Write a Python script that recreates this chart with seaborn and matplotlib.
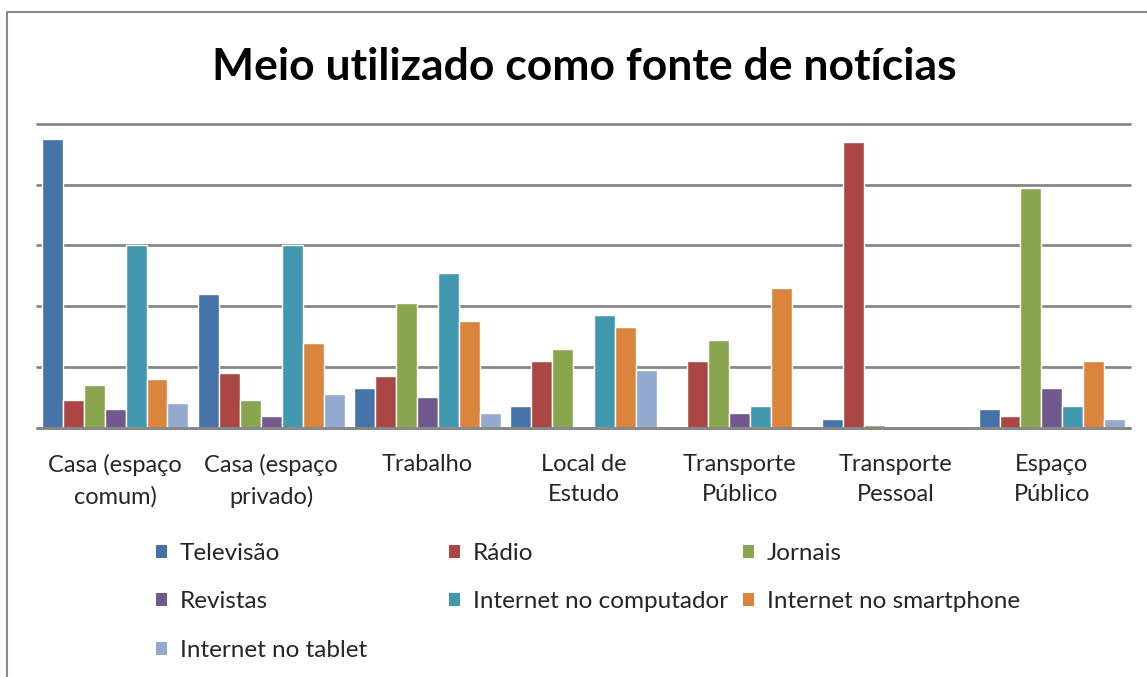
import matplotlib
matplotlib.use("Agg")
import matplotlib.pyplot as plt
import seaborn as sns
import pandas as pd
from matplotlib.patches import Patch
from matplotlib.lines import Line2D

# ---- data ----
locais = ["Casa (espaço\ncomum)", "Casa (espaço\nprivado)", "Trabalho", "Local de\nEstudo",
          "Transporte\nPúblico", "Transporte\nPessoal", "Espaço\nPúblico"]
meios = ["Televisão", "Rádio", "Jornais", "Revistas", "Internet no computador",
         "Internet no smartphone", "Internet no tablet"]
televisao = [95, 44, 13, 7, 0, 3, 6]
radio = [9, 18, 17, 22, 22, 94, 4]
jornais = [14, 9, 41, 26, 29, 1, 79]
revistas = [6, 4, 10, 0, 5, 0, 13]
int_computador = [60, 60, 51, 37, 7, 0, 7]
int_smartphone = [16, 28, 35, 33, 46, 0, 22]
int_tablet = [8, 11, 5, 19, 0, 0, 3]
cores = ["#4572A7", "#AA4643", "#89A54E", "#71588F", "#4198AF", "#DB843D", "#93A9CF"]

series = [televisao, radio, jornais, revistas, int_computador, int_smartphone, int_tablet]
rows = []
for m, vals in zip(meios, series):
    for l, v in zip(locais, vals):
        rows.append({"local": l, "meio": m, "valor": v})
df = pd.DataFrame(rows)

sns.set_style("white")
plt.rcParams["font.family"] = ["Lato", "DejaVu Sans"]

W, H = 1147, 677
fig = plt.figure(figsize=(W / 100, H / 100), dpi=100)
x0, x1, ytop, ybot = 37, 1130, 124, 427.7
ax = fig.add_axes([x0 / W, 1 - ybot / H, (x1 - x0) / W, (ybot - ytop) / H])

sns.barplot(data=df, x="local", y="valor", hue="meio", order=locais, hue_order=meios,
            palette=cores, width=0.94, gap=0, edgecolor="white", linewidth=1.0,
            saturation=1, ax=ax, legend=False, errorbar=None)

ax.set_xlim(-0.5, 6.5)
ax.set_ylim(0, 100)
ax.set_yticks(range(0, 101, 20))
ax.set_yticklabels([])
ax.tick_params(axis="y", length=0)
ax.tick_params(axis="x", length=0, pad=19, labelsize=17)
for lbl in ax.get_xticklabels():
    lbl.set_linespacing(1.55)
ax.set_xlabel("")
ax.set_ylabel("")
ax.set_axisbelow(True)
ax.yaxis.grid(True, color="#878787", linewidth=2)
for gl in ax.get_ygridlines():
    gl.set_clip_on(False)
ax.axhline(0, color="#878787", linewidth=2, zorder=5, clip_on=False)
for s in ax.spines.values():
    s.set_visible(False)

fig.text(584 / W, 1 - 67 / H, "Meio utilizado como fonte de notícias", ha="center", va="center",
         fontsize=32, fontweight="bold", color="black")

# chart-area border (partially visible)
fig.add_artist(Line2D([7 / W, 1], [1 - 12 / H, 1 - 12 / H], color="#8a8a8a", lw=1.5))
fig.add_artist(Line2D([7 / W, 7 / W], [1 - 12 / H, 0], color="#8a8a8a", lw=1.5))

# legend, row-major in three columns
cols = [[0, 3, 6], [1, 4], [2, 5]]
xs = [156, 449, 743]
for xi, idx in zip(xs, cols):
    handles = [Patch(facecolor=cores[i], edgecolor="none") for i in idx]
    labels = [meios[i] for i in idx]
    fig.legend(handles, labels, loc="upper left", bbox_to_anchor=(xi / W, 1 - 543 / H),
               frameon=False, fontsize=17.5, handlelength=0.45, handleheight=0.45,
               handletextpad=0.53, labelspacing=1.13, borderpad=0, borderaxespad=0)

fig.savefig("out.png", dpi=100)
